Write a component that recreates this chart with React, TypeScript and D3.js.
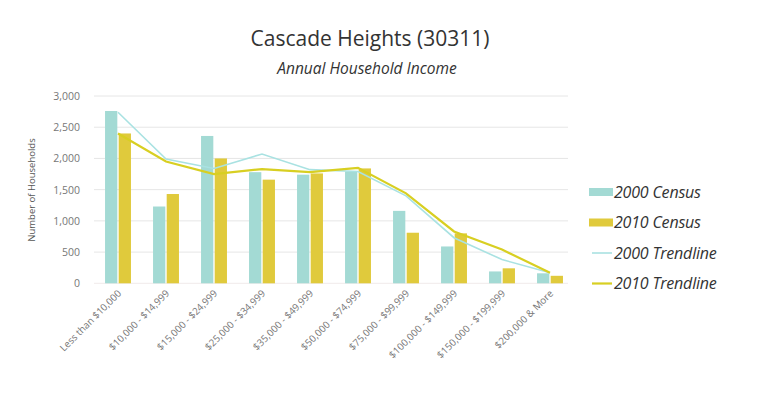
import React from "react";
import * as d3 from "d3";

const categories = [
  "Less than $10,000",
  "$10,000 - $14,999",
  "$15,000 - $24,999",
  "$25,000 - $34,999",
  "$35,000 - $49,999",
  "$50,000 - $74,999",
  "$75,000 - $99,999",
  "$100,000 - $149,999",
  "$150,000 - $199,999",
  "$200,000 & More",
];
const census2000 = [2760, 1230, 2360, 1780, 1740, 1790, 1160, 590, 190, 160];
const census2010 = [2400, 1430, 2000, 1660, 1760, 1840, 810, 800, 240, 120];
const trend2000 = [2740, 1990, 1840, 2070, 1820, 1790, 1400, 730, 380, 170];
const trend2010 = [2400, 1950, 1750, 1830, 1780, 1850, 1440, 830, 540, 170];
const yTicks = [0, 500, 1000, 1500, 2000, 2500, 3000];
const legendItems = ["2000 Census", "2010 Census", "2000 Trendline", "2010 Trendline"];

const W = 761;
const H = 393;
const margin = { left: 94, right: 187, top: 96, bottom: 109 };

export default function App() {
  const x = d3
    .scaleBand<string>()
    .domain(categories)
    .range([margin.left, W - margin.right])
    .paddingInner(0.46)
    .paddingOuter(0.23);
  const y = d3.scaleLinear().domain([0, 3000]).range([H - margin.bottom - 0.7, margin.top]);
  const sub = d3.scaleBand<string>().domain(["a", "b"]).range([0, x.bandwidth()]).paddingInner(0.1);

  const cyan = "#a3dad4";
  const yellow = "#e0ca3c";
  const cyanLine = "#a9e2e2";
  const yellowLine = "#d8cf22";

  const line = d3
    .line<number>()
    .x((_, i) => (x(categories[i]) as number) + x.bandwidth() / 2)
    .y((d) => y(d));

  const font = "'Open Sans', 'DejaVu Sans', sans-serif";

  return (
    <svg width={W} height={H} style={{ position: "absolute", left: 0, top: 0, background: "#fff" }}>
      <text x={370} y={46} textAnchor="middle" fontFamily={font} fontSize={21} fill="#333">
        Cascade Heights (30311)
      </text>
      <text x={367} y={74} textAnchor="middle" fontFamily={font} fontSize={15.5} fontStyle="italic" fill="#333">
        Annual Household Income
      </text>

      {yTicks.map((t) => (
        <g key={t}>
          {t > 0 && (
            <line x1={margin.left} x2={W - margin.right - 6} y1={y(t)} y2={y(t)} stroke="#e6e6e6" strokeWidth={1} />
          )}
          <text x={80} y={y(t) + 4} textAnchor="end" fontFamily={font} fontSize={10.5} fill="#777">
            {d3.format(",")(t)}
          </text>
        </g>
      ))}
      <line x1={margin.left} x2={W - margin.right - 6} y1={y(0)} y2={y(0)} stroke="#f0eaea" strokeWidth={1} />

      <text
        transform={`translate(35,${190}) rotate(-90)`}
        textAnchor="middle"
        fontFamily={font}
        fontSize={9.5}
        fill="#555"
      >
        Number of Households
      </text>

      {categories.map((c, i) => {
        const x0 = x(c) as number;
        return (
          <g key={c}>
            <rect x={x0 + (sub("a") as number)} y={y(census2000[i])} width={sub.bandwidth()} height={y(0) - y(census2000[i])} fill={cyan} />
            <rect x={x0 + (sub("b") as number)} y={y(census2010[i])} width={sub.bandwidth()} height={y(0) - y(census2010[i])} fill={yellow} />
            <text
              transform={`translate(${x0 + x.bandwidth() / 2 + 4},${294}) rotate(-45)`}
              textAnchor="end"
              fontFamily={font}
              fontSize={9.8}
              fill="#777"
            >
              {c}
            </text>
          </g>
        );
      })}

      <path d={line(trend2000) || ""} fill="none" stroke={cyanLine} strokeWidth={1.6} />
      <path d={line(trend2010) || ""} fill="none" stroke={yellowLine} strokeWidth={2.2} />

      {legendItems.map((l, i) => {
        const ly = 192 + i * 30.5;
        return (
          <g key={l}>
            {i < 2 ? (
              <rect x={589} y={ly - 4} width={24} height={8} fill={i === 0 ? cyan : yellow} />
            ) : (
              <line x1={592} x2={612} y1={ly} y2={ly} stroke={i === 2 ? cyanLine : yellowLine} strokeWidth={i === 2 ? 1.6 : 2.2} />
            )}
            <text x={614} y={ly + 5.5} fontFamily={font} fontSize={16} fontStyle="italic" fill="#333" letterSpacing={-0.2}>
              {l}
            </text>
          </g>
        );
      })}
    </svg>
  );
}
